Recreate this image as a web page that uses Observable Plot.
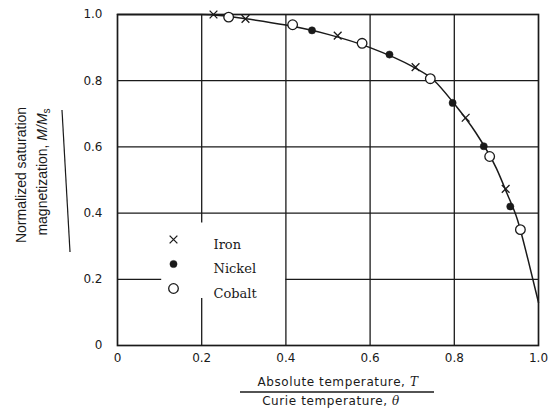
<!DOCTYPE html>
<html>
<head>
<meta charset="utf-8">
<script src="https://cdn.jsdelivr.net/npm/d3@7"></script>
<script src="https://cdn.jsdelivr.net/npm/@observablehq/plot@0.6"></script>
<style>
  html, body { margin: 0; padding: 0; background: #fff; }
  #chart { width: 558px; height: 414px; }
</style>
</head>
<body>
<div id="chart"></div>
<script>
// ---- data ----
const ironT   = [0.228, 0.304, 0.523, 0.708, 0.827, 0.922];
const ironM   = [1.000, 0.987, 0.936, 0.841, 0.688, 0.473];
const nickelT = [0.462, 0.646, 0.796, 0.870, 0.933];
const nickelM = [0.952, 0.879, 0.733, 0.602, 0.420];
const cobaltT = [0.264, 0.416, 0.581, 0.743, 0.884, 0.957];
const cobaltM = [0.992, 0.969, 0.913, 0.806, 0.571, 0.350];
const curveT  = [0, 0.2, 0.25, 0.3, 0.4, 0.5, 0.6, 0.7, 0.75, 0.8, 0.85, 0.9, 0.925, 0.95, 0.975, 1.0];
const curveM  = [1.0, 1.0, 0.996, 0.988, 0.968, 0.94, 0.9, 0.843, 0.803, 0.73, 0.645, 0.535, 0.46, 0.38, 0.26, 0.13];
const tickValues = [0, 0.2, 0.4, 0.6, 0.8, 1.0];
const gridValues = [0.2, 0.4, 0.6, 0.8];
const seriesNames = ["Iron", "Nickel", "Cobalt"];
// region of the plot kept clear of grid lines for the legend (data units)
const legendClear = {x1: 0.105, x2: 0.4, y1: 0.142, y2: 0.37};

const zip = (a, b) => a.map((v, i) => ({t: v, m: b[i]}));
const iron = zip(ironT, ironM), nickel = zip(nickelT, nickelM), cobalt = zip(cobaltT, cobaltM);
const curve = zip(curveT, curveM);

// grid segments, interrupted where the legend sits
const vSegs = [], hSegs = [];
for (const g of gridValues) {
  if (g > legendClear.x1 && g < legendClear.x2) {
    vSegs.push({v: g, a: 0, b: legendClear.y1}, {v: g, a: legendClear.y2, b: 1});
  } else vSegs.push({v: g, a: 0, b: 1});
  if (g > legendClear.y1 && g < legendClear.y2) {
    hSegs.push({v: g, a: 0, b: legendClear.x1}, {v: g, a: legendClear.x2, b: 1});
  } else hSegs.push({v: g, a: 0, b: 1});
}

const fmt = d => d === 0 ? "0" : d.toFixed(1);
const ink = "#1a1a1a";
const legendStyle = [
  {symbol: "times", r: 3.6, fill: "none", stroke: ink, strokeWidth: 1.3},
  {symbol: "circle", r: 3.6, fill: ink, stroke: ink, strokeWidth: 0.5},
  {symbol: "circle", r: 4.8, fill: "white", stroke: ink, strokeWidth: 1.3}
];
const legendMarks = seriesNames.flatMap((name, i) => [
  Plot.dot([name], {frameAnchor: "top-left", dx: 56, dy: 225 + i * 24.5, ...legendStyle[i]}),
  Plot.text([name], {frameAnchor: "top-left", dx: 96, dy: 225 + i * 24.5, text: d => d,
    textAnchor: "start", fill: ink, fontFamily: "DejaVu Serif", fontSize: 13, letterSpacing: "0.4px"})
]);

const svg = Plot.plot({
  width: 558, height: 414,
  marginLeft: 117, marginRight: 20, marginTop: 14, marginBottom: 69,
  x: {domain: [0, 1]},
  y: {domain: [0, 1]},
  style: {background: "white", fontFamily: "DejaVu Sans", fontSize: "12px", color: ink},
  marks: [
    Plot.ruleX(vSegs, {x: "v", y1: "a", y2: "b", stroke: ink, strokeWidth: 1.3}),
    Plot.ruleY(hSegs, {y: "v", x1: "a", x2: "b", stroke: ink, strokeWidth: 1.3}),
    Plot.frame({stroke: ink, strokeWidth: 1.7}),
    Plot.axisX({ticks: tickValues, tickSize: 0, tickPadding: 8, tickFormat: fmt, label: null,
      fontSize: 12, letterSpacing: "0.8px"}),
    Plot.axisY({ticks: tickValues, tickSize: 0, tickPadding: 15, tickFormat: fmt, label: null,
      fontSize: 12, letterSpacing: "0.8px"}),
    Plot.line(curve, {x: "t", y: "m", curve: "monotone-x", stroke: ink, strokeWidth: 1.5}),
    Plot.dot(iron, {x: "t", y: "m", ...legendStyle[0]}),
    Plot.dot(nickel, {x: "t", y: "m", ...legendStyle[1]}),
    Plot.dot(cobalt, {x: "t", y: "m", ...legendStyle[2]}),
    ...legendMarks
  ]
});
document.getElementById("chart").appendChild(svg);

// ---- axis titles (mixed italic / subscript text) ----
const s = d3.select(svg);
const xt = s.append("g").attr("fill", ink).attr("font-family", "DejaVu Sans")
  .attr("font-size", 12).attr("letter-spacing", "0.6px").attr("text-anchor", "middle");
const t1 = xt.append("text").attr("x", 338).attr("y", 386);
t1.append("tspan").text("Absolute temperature, ");
t1.append("tspan").attr("font-style", "italic").attr("font-family", "DejaVu Serif").text("T");
xt.append("line").attr("x1", 240).attr("x2", 434).attr("y1", 392).attr("y2", 392)
  .attr("stroke", ink).attr("stroke-width", 1.4);
const t2 = xt.append("text").attr("x", 331).attr("y", 405);
t2.append("tspan").text("Curie temperature, ");
t2.append("tspan").attr("font-style", "italic").attr("font-family", "DejaVu Serif").text("θ");

const yt = s.append("g").attr("fill", ink).attr("font-family", "Liberation Sans")
  .attr("font-size", 14).attr("text-anchor", "middle");
yt.append("text").attr("transform", "translate(26,175) rotate(-90)").text("Normalized saturation");
const y2 = yt.append("text").attr("transform", "translate(47,172) rotate(-90)");
y2.append("tspan").text("magnetization, ");
y2.append("tspan").attr("font-style", "italic").text("M/M");
y2.append("tspan").attr("font-size", 10).attr("dy", "0.3em").text("s");
s.append("path").attr("d", "M62,110 Q66,180 70,252").attr("fill", "none")
  .attr("stroke", ink).attr("stroke-width", 1.2);
</script>
</body>
</html>
